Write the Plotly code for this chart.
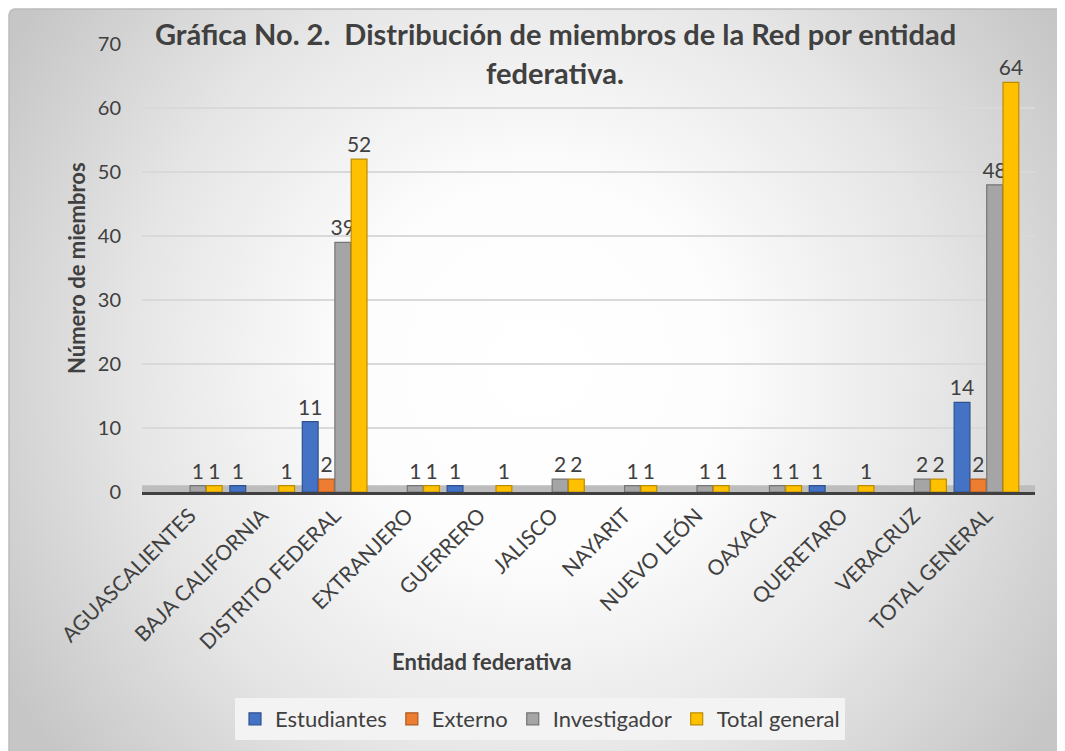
import base64
import plotly.graph_objects as go

categories = ["AGUASCALIENTES", "BAJA CALIFORNIA", "DISTRITO FEDERAL", "EXTRANJERO",
              "GUERRERO", "JALISCO", "NAYARIT", "NUEVO LEÓN", "OAXACA", "QUERETARO",
              "VERACRUZ", "TOTAL GENERAL"]
estudiantes = [None, 1, 11, None, 1, None, None, None, None, 1, None, 14]
externo = [None, None, 2, None, None, None, None, None, None, None, None, 2]
investigador = [1, None, 39, 1, None, 2, 1, 1, 1, None, 2, 48]
total_general = [1, 1, 52, 1, 1, 2, 1, 1, 1, 1, 2, 64]

series = [
    ("Estudiantes", estudiantes, "#4472c4", "#2f528f"),
    ("Externo", externo, "#ed7d31", "#ae5a21"),
    ("Investigador", investigador, "#a5a5a5", "#767676"),
    ("Total general", total_general, "#ffc000", "#bc8c00"),
]

W, H = 1065, 751
OFF = 8  # page body margin
L, R, T, B = 142 - OFF, 1035 - OFF, 44 - OFF, 492 - OFF
PW, PH = R - L, B - T
FONT = "Lato"
TXT = "#404040"

fig = go.Figure()
for name, vals, col, edge in series:
    fig.add_trace(go.Bar(
        name=name, x=categories, y=vals,
        marker=dict(color=col, line=dict(color=edge, width=1.2)),
        text=["" if v is None else str(v) for v in vals],
        textposition="outside", cliponaxis=False, constraintext="none",
        textfont=dict(family=FONT, size=21, color=TXT),
    ))

svg = (f"<svg xmlns='http://www.w3.org/2000/svg' width='{W}' height='{H}'>"
       "<defs><radialGradient id='g' gradientUnits='userSpaceOnUse' cx='530' cy='360' r='620'>"
       "<stop offset='0' stop-color='#ffffff'/><stop offset='0.3' stop-color='#fdfdfd'/>"
       "<stop offset='0.65' stop-color='#e6e6e6'/>"
       "<stop offset='1' stop-color='#c6c6c6'/></radialGradient></defs>"
       f"<rect x='1' y='1' width='{W+20}' height='{H+20}' rx='6' fill='url(#g)' "
       "stroke='#bcbcbc' stroke-width='1.5'/></svg>")
src = "data:image/svg+xml;base64," + base64.b64encode(svg.encode()).decode()


def px_x(p):
    return (p - OFF - L) / PW


def px_y(p):
    return (B - (p - OFF)) / PH


fig.update_layout(
    width=W, height=H,
    margin=dict(l=L, r=W - R, t=T, b=H - B, autoexpand=False),
    paper_bgcolor="white", plot_bgcolor="rgba(0,0,0,0)",
    barmode="group", bargap=0.1, bargroupgap=0.03,
    font=dict(family=FONT, color=TXT),
    showlegend=True,
    legend=dict(orientation="h", x=px_x(540), xanchor="center", y=px_y(719), yanchor="middle",
                bgcolor="#f3f3f3", font=dict(family=FONT, size=22, color=TXT),
                traceorder="normal", itemwidth=30),
    xaxis=dict(range=[-0.66, 11.67], tickangle=-45, showline=True, linecolor="#404040",
               linewidth=3, ticks="", tickfont=dict(family=FONT, size=21, color=TXT),
               showgrid=False, fixedrange=True),
    yaxis=dict(range=[0, 70], dtick=10, showgrid=True, gridcolor="#d9d9d9", gridwidth=1.5,
               zeroline=False, tickfont=dict(family=FONT, size=20, color=TXT),
               ticklabelstandoff=20),
    images=[dict(source=src, xref="paper", yref="paper", x=-L / PW, y=1 + T / PH,
                 sizex=W / PW, sizey=H / PH, xanchor="left", yanchor="top",
                 sizing="stretch", layer="below")],
    shapes=[dict(type="rect", xref="paper", yref="paper", x0=0, x1=1, y0=0, y1=0.015,
                 fillcolor="#bdbdbd", line=dict(width=0), layer="below")],
    annotations=[
        dict(text="<b>Gráfica No. 2.  Distribución de miembros de la Red por entidad</b>",
             xref="paper", yref="paper", x=px_x(555), y=px_y(34), xanchor="center", yanchor="middle",
             showarrow=False, font=dict(family=FONT, size=29, color=TXT)),
        dict(text="<b>federativa.</b>",
             xref="paper", yref="paper", x=px_x(555), y=px_y(72), xanchor="center", yanchor="middle",
             showarrow=False, font=dict(family=FONT, size=29, color=TXT)),
        dict(text="<b>Entidad federativa</b>",
             xref="paper", yref="paper", x=px_x(482), y=px_y(661), xanchor="center", yanchor="middle",
             showarrow=False, font=dict(family=FONT, size=22, color=TXT)),
        dict(text="<b>Número de miembros</b>", textangle=-90,
             xref="paper", yref="paper", x=px_x(76), y=px_y(268), xanchor="center", yanchor="middle",
             showarrow=False, font=dict(family=FONT, size=22, color=TXT)),
    ],
)

fig.write_html("out.html")
